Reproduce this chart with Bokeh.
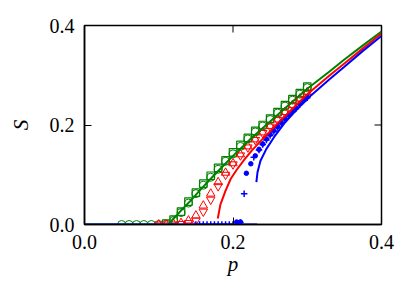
from bokeh.plotting import figure
from bokeh.models import Range1d, LinearAxis, FixedTicker, PrintfTickFormatter
from bokeh.embed import file_html
from bokeh.resources import INLINE

# ---- data ----
tick_vals = [0.0, 0.2, 0.4]

green_circ_p = [0.05, 0.06, 0.07, 0.08, 0.09, 0.10, 0.11, 0.12, 0.13, 0.14, 0.15, 0.16, 0.17,
                0.18, 0.19, 0.20, 0.21, 0.22, 0.23, 0.24, 0.25, 0.26, 0.27, 0.28, 0.29, 0.30]
green_circ_s = [0.0, 0.0, 0.0, 0.0, 0.0, 0.0, 0.001, 0.008, 0.024, 0.043, 0.062, 0.079, 0.095,
                0.111, 0.127, 0.142, 0.157, 0.172, 0.186, 0.198, 0.211, 0.224, 0.238, 0.250, 0.262, 0.275]

green_sq_p = [0.11, 0.12, 0.13, 0.14, 0.15, 0.16, 0.17, 0.18, 0.19, 0.20, 0.21, 0.22, 0.23,
              0.24, 0.25, 0.26, 0.27, 0.28, 0.29, 0.30]
green_sq_s = [0.002, 0.010, 0.026, 0.046, 0.064, 0.082, 0.098, 0.114, 0.129, 0.145, 0.160, 0.174,
              0.188, 0.200, 0.213, 0.226, 0.240, 0.252, 0.264, 0.277]

red_p = [0.10, 0.11, 0.12, 0.13, 0.14, 0.15, 0.16, 0.17, 0.18, 0.19, 0.20, 0.21, 0.22, 0.23,
         0.24, 0.25, 0.26, 0.27, 0.28, 0.29, 0.30]
red_up_s = [0.0, 0.0, 0.001, 0.003, 0.008, 0.018, 0.038, 0.062, 0.085, 0.104, 0.123, 0.141, 0.157,
            0.171, 0.185, 0.198, 0.211, 0.226, 0.240, 0.253, 0.266]
red_down_s = [0.0, 0.0, 0.0, 0.001, 0.003, 0.008, 0.026, 0.050, 0.077, 0.100, 0.121, 0.139, 0.155,
              0.170, 0.184, 0.197, 0.210, 0.225, 0.239, 0.252, 0.265]

blue_plus_p = [0.150, 0.155, 0.160, 0.165, 0.170, 0.175, 0.180, 0.185, 0.190, 0.195, 0.200, 0.205,
               0.210, 0.215, 0.228, 0.235, 0.240, 0.245, 0.250, 0.255, 0.260, 0.265, 0.270, 0.275,
               0.280, 0.285, 0.290, 0.295, 0.300]
blue_plus_s = [0.0, 0.0, 0.0, 0.0, 0.0, 0.0, 0.0, 0.0, 0.0, 0.0, 0.0, 0.0,
               0.004, 0.062, 0.135, 0.150, 0.161, 0.170, 0.179, 0.187, 0.195, 0.203, 0.211, 0.219,
               0.226, 0.233, 0.241, 0.248, 0.255]

blue_dot_p = [0.205, 0.210, 0.218, 0.224, 0.230, 0.235, 0.240, 0.245, 0.250, 0.255, 0.260, 0.265,
              0.270, 0.275, 0.280, 0.285, 0.290, 0.295, 0.300]
blue_dot_s = [0.005, 0.005, 0.103, 0.122, 0.138, 0.151, 0.162, 0.172, 0.181, 0.189, 0.197, 0.205,
              0.213, 0.220, 0.227, 0.234, 0.242, 0.249, 0.256]

green_line_p = [0.0, 0.113, 0.12, 0.13, 0.143, 0.155, 0.17, 0.185, 0.20, 0.225, 0.25, 0.275, 0.30,
                0.33, 0.35, 0.375, 0.40]
green_line_s = [0.0, 0.0, 0.012, 0.028, 0.048, 0.068, 0.092, 0.115, 0.138, 0.174, 0.207, 0.240,
                0.273, 0.3075, 0.3315, 0.360, 0.388]

red_line_p = [0.1795, 0.183, 0.19, 0.197, 0.205, 0.215, 0.225, 0.24, 0.25, 0.26, 0.28, 0.30,
              0.33, 0.35, 0.375, 0.40]
red_line_s = [0.012, 0.040, 0.068, 0.092, 0.110, 0.130, 0.148, 0.172, 0.187, 0.203, 0.232, 0.262,
              0.2995, 0.3235, 0.354, 0.384]

blue_flat_p = [0.0, 0.2325]
blue_flat_s = [0.0, 0.0]
blue_line_p = [0.2315, 0.233, 0.237, 0.245, 0.255, 0.27, 0.285, 0.30, 0.33, 0.35, 0.375, 0.40]
blue_line_s = [0.085, 0.105, 0.128, 0.152, 0.175, 0.205, 0.230, 0.253, 0.292, 0.317, 0.349, 0.379]

GREEN = "#008000"
RED = "#ff0000"
BLUE = "#0000ff"
FONT = "serif"

FRAME_W, FRAME_H = 297, 199
X0, X1, Y0, Y1 = 0.0, 0.4, 0.0, 0.4
TICK_PX = 7

p = figure(frame_width=FRAME_W, frame_height=FRAME_H,
           x_range=Range1d(X0, X1), y_range=Range1d(Y0, Y1),
           output_backend="svg", toolbar_location=None,
           x_axis_location=None, y_axis_location=None,
           min_border_left=84, min_border_right=27, min_border_top=25, min_border_bottom=64)
p.grid.grid_line_color = None
p.outline_line_color = "black"
p.outline_line_width = 1.5
p.background_fill_color = "white"


def make_axis(label):
    ax = LinearAxis(ticker=FixedTicker(ticks=tick_vals),
                    formatter=PrintfTickFormatter(format="%.1f"))
    ax.major_tick_in = TICK_PX
    ax.major_tick_out = 0
    ax.minor_tick_in = 0
    ax.minor_tick_out = 0
    ax.major_tick_line_color = "black"
    ax.major_tick_line_width = 1
    ax.axis_line_color = "black"
    ax.axis_line_width = 1.5
    ax.major_label_text_font = FONT
    ax.major_label_text_font_size = "20px"
    ax.major_label_text_color = "black"
    ax.major_label_standoff = 10
    ax.axis_label = label
    ax.axis_label_text_font = FONT
    ax.axis_label_text_font_style = "italic"
    ax.axis_label_text_font_size = "21px"
    ax.axis_label_text_color = "black"
    return ax


left = make_axis("S")
left.axis_label_standoff = 14
bottom = make_axis("p")
bottom.axis_label_standoff = 0
p.add_layout(left, "left")
p.add_layout(bottom, "below")

# inward ticks on the top and right frame edges (mirror of the labelled axes)
tick_dx = TICK_PX / FRAME_W * (X1 - X0)
tick_dy = TICK_PX / FRAME_H * (Y1 - Y0)
p.segment(x0=tick_vals, y0=[Y1] * len(tick_vals), x1=tick_vals,
          y1=[Y1 - tick_dy] * len(tick_vals), line_color="black", line_width=1)
p.segment(x0=[X1] * len(tick_vals), y0=tick_vals, x1=[X1 - tick_dx] * len(tick_vals),
          y1=tick_vals, line_color="black", line_width=1)

# markers
p.scatter(green_circ_p, green_circ_s, marker="circle", size=8, line_color=GREEN,
          fill_color=None, line_width=1)
p.scatter(green_sq_p, green_sq_s, marker="square", size=7.5, line_color=GREEN,
          fill_color=None, line_width=1.2)
p.scatter(red_p, red_up_s, marker="triangle", size=8.5, line_color=RED,
          fill_color=None, line_width=1)
p.scatter(red_p, red_down_s, marker="inverted_triangle", size=8.5, line_color=RED,
          fill_color=None, line_width=1)
p.scatter(blue_plus_p, blue_plus_s, marker="cross", size=6.5, line_color=BLUE, line_width=1.5)
p.scatter(blue_dot_p, blue_dot_s, marker="circle", size=4.5, line_color=BLUE, fill_color=BLUE)

# theory lines
p.line(green_line_p, green_line_s, line_color=GREEN, line_width=2)
p.line(red_line_p, red_line_s, line_color=RED, line_width=2)
p.line(blue_flat_p, blue_flat_s, line_color=BLUE, line_width=2)
p.line(blue_line_p, blue_line_s, line_color=BLUE, line_width=2)

open("out.html", "w").write(file_html(p, INLINE))
